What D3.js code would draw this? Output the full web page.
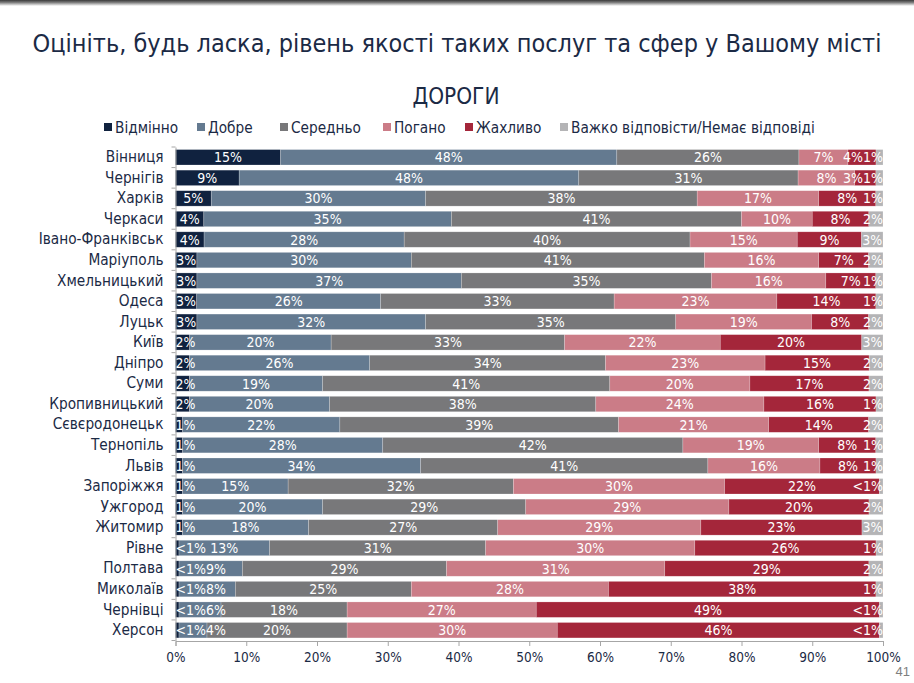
<!DOCTYPE html>
<html><head><meta charset="utf-8">
<script src="https://cdn.jsdelivr.net/npm/d3@7/dist/d3.min.js"></script>
<style>
html,body{margin:0;padding:0;background:#fff;}
svg{display:block;}
</style></head>
<body>
<svg id="chart" width="914" height="683"></svg>
<script>
const cities = ["Вінниця","Чернігів","Харків","Черкаси","Івано-Франківськ","Маріуполь","Хмельницький","Одеса","Луцьк","Київ","Дніпро","Суми","Кропивницький","Сєвєродонецьк","Тернопіль","Львів","Запоріжжя","Ужгород","Житомир","Рівне","Полтава","Миколаїв","Чернівці","Херсон"];
const seriesNames = ["Відмінно","Добре","Середньо","Погано","Жахливо","Важко відповісти/Немає відповіді"];
// 0.5 stands for "<1%"
const excellent = [15,9,5,4,4,3,3,3,3,2,2,2,2,1,1,1,1,1,1,0.5,0.5,0.5,0.5,0.5];
const good      = [48,48,30,35,28,30,37,26,32,20,26,19,20,22,28,34,15,20,18,13,9,8,6,4];
const average   = [26,31,38,41,40,41,35,33,35,33,34,41,38,39,42,41,32,29,27,31,29,25,18,20];
const bad       = [7,8,17,10,15,16,16,23,19,22,23,20,24,21,19,16,30,29,29,30,31,28,27,30];
const terrible  = [4,3,8,8,9,7,7,14,8,20,15,17,16,14,8,8,22,20,23,26,29,38,49,46];
const noAnswer  = [1,1,1,2,3,2,1,1,2,3,2,2,1,2,1,1,0.5,2,3,1,2,1,0.5,0.5];
const xTicks = [0,0.1,0.2,0.3,0.4,0.5,0.6,0.7,0.8,0.9,1];
const colors = ["#10223f","#647a90","#78787a","#cb7c87","#a4263a","#b4b4b6"];

const seriesData = [excellent,good,average,bad,terrible,noAnswer];
const keys = seriesNames;
const rows = cities.map((c,i)=>{const o={city:c}; keys.forEach((k,j)=>o[k]=seriesData[j][i]); return o;});

const svg = d3.select("#chart");
const FONT = "'DejaVu Sans Condensed','Liberation Sans Narrow','Open Sans',sans-serif";
const TXT = "#1b2a45";

// top shadow line
const defs = svg.append("defs");
const g0 = defs.append("linearGradient").attr("id","topg").attr("x1",0).attr("y1",0).attr("x2",0).attr("y2",1);
g0.append("stop").attr("offset","0%").attr("stop-color","#3a3a3a");
g0.append("stop").attr("offset","40%").attr("stop-color","#7a7a7a");
g0.append("stop").attr("offset","100%").attr("stop-color","#ffffff");
svg.append("rect").attr("x",0).attr("y",0).attr("width",914).attr("height",6).attr("fill","url(#topg)");

function fit(sel, target, base){
  sel.style("font-size", base+"px");
  const w = sel.node().getComputedTextLength();
  const s = base*target/w;
  sel.style("font-size", s+"px");
  return s;
}

// title
const title = svg.append("text").attr("x",457).attr("y",52).attr("text-anchor","middle")
  .attr("fill",TXT).style("font-family",FONT)
  .text("Оцініть, будь ласка, рівень якості таких послуг та сфер у Вашому місті");
fit(title, 849, 26);

const sub = svg.append("text").attr("x",456).attr("y",104).attr("text-anchor","middle")
  .attr("fill",TXT).style("font-family",FONT).text("ДОРОГИ");
fit(sub, 87, 22);

const margin = {left:175.5, right:883};
const x = d3.scaleLinear().domain([0,1]).range([margin.left, margin.right]);
const y = d3.scaleBand().domain(cities).range([147,640.5]).paddingInner(0.25).paddingOuter(0.125);

const stack = d3.stack().keys(keys).offset(d3.stackOffsetExpand);
const stacked = stack(rows);

// legend
const legendX = [104,197,280,383,465,560];
const lg = svg.append("g");
let legendSize = null;
keys.forEach((k,i)=>{
  const gi = lg.append("g").attr("transform",`translate(${legendX[i]},0)`);
  gi.append("rect").attr("x",0).attr("y",123).attr("width",8).attr("height",8).attr("fill",colors[i]);
  const t = gi.append("text").attr("x",11).attr("y",133).attr("fill",TXT).style("font-family",FONT).text(k);
  if(i===5){ legendSize = fit(t, 244, 15); }
});
lg.selectAll("text").style("font-size",legendSize+"px");

// bars
const layer = svg.append("g").selectAll("g").data(stacked).join("g").attr("fill",(d,i)=>colors[i]);
layer.selectAll("rect").data(d=>d.map(v=>({v, city:v.data.city}))).join("rect")
  .attr("x",d=>x(d.v[0])).attr("width",d=>x(d.v[1])-x(d.v[0]))
  .attr("y",d=>y(d.city)).attr("height",y.bandwidth())
  .attr("stroke","#ffffff").attr("stroke-opacity",0.35).attr("stroke-width",0.6);

// value labels: centred in segments, kept inside plot, pushed apart when colliding
const labelG = svg.append("g").style("font-family",FONT).attr("fill","#ffffff").attr("text-anchor","middle");
const valSize = 14;
cities.forEach((city,ci)=>{
  const items = stacked.map(s=>{
    const d = s[ci]; const v = d.data[s.key];
    const t = labelG.append("text").style("font-size",valSize+"px")
      .attr("y", y(city)+y.bandwidth()/2).attr("dy","0.36em")
      .text(v<1?"<1%":v+"%");
    const w = t.node().getComputedTextLength();
    let c = (x(d[0])+x(d[1]))/2;
    c = Math.max(margin.left + w/2, Math.min(margin.right - w/2, c));
    return {t, w, c};
  });
  for(let i=1;i<items.length;i++){
    const prevEnd = items[i-1].c + items[i-1].w/2;
    const st = items[i].c - items[i].w/2;
    if(st < prevEnd) items[i].c += prevEnd - st;
  }
  const last = items[items.length-1];
  last.c = Math.min(margin.right - last.w/2, last.c);
  for(let i=items.length-2;i>=0;i--){
    const nextSt = items[i+1].c - items[i+1].w/2;
    const en = items[i].c + items[i].w/2;
    if(en > nextSt) items[i].c -= en - nextSt;
  }
  items.forEach(it=>it.t.attr("x", it.c));
});

// y axis
const yAxis = svg.append("g").attr("transform",`translate(${margin.left},0)`)
  .call(d3.axisLeft(y).tickSize(0).tickPadding(12));
yAxis.select(".domain").attr("stroke","#a6a6a6");
const yt = yAxis.selectAll("text").attr("fill",TXT).style("font-family",FONT);
let citySize;
yt.each(function(d){ if(d==="Івано-Франківськ") citySize = fit(d3.select(this),125,15); });
yt.style("font-size",citySize+"px");
// boundary ticks
const step = y.step();
const bounds = cities.map(c=>y(c)-y.paddingInner()*step/2).concat([y(cities[cities.length-1])+y.bandwidth()+y.paddingInner()*step/2]);
svg.append("g").selectAll("line").data(bounds).join("line")
  .attr("x1",margin.left-4).attr("x2",margin.left).attr("y1",d=>d).attr("y2",d=>d)
  .attr("stroke","#a6a6a6").attr("stroke-width",1);

// x axis
const xAxis = svg.append("g").attr("transform",`translate(0,641)`)
  .call(d3.axisBottom(x).tickValues(xTicks).tickFormat(d3.format(".0%")).tickSize(5).tickPadding(6));
xAxis.select(".domain").attr("stroke","#a6a6a6");
xAxis.selectAll(".tick line").attr("stroke","#a6a6a6");
xAxis.selectAll("text").attr("fill",TXT).style("font-family",FONT).style("font-size","13.5px");

// page number
svg.append("text").attr("x",910).attr("y",676).attr("text-anchor","end")
  .attr("fill","#7f7f7f").style("font-family","'Liberation Sans',sans-serif").style("font-size","13px").text("41");
</script>
</body></html>
